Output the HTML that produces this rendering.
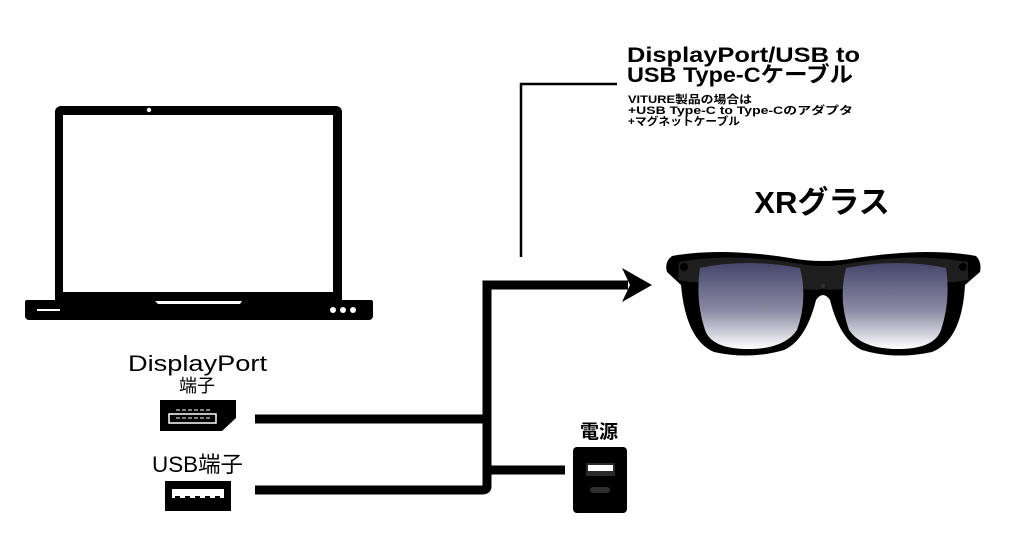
<!DOCTYPE html>
<html><head><meta charset="utf-8"><style>
html,body{margin:0;padding:0;background:#fff;}
svg{display:block}
text{font-family:"Liberation Sans","Noto Sans CJK JP",sans-serif;fill:#000}
</style></head><body>
<svg width="1024" height="538" viewBox="0 0 1024 538" xmlns="http://www.w3.org/2000/svg">
<defs>
<linearGradient id="lens" x1="0" y1="0" x2="0" y2="1">
<stop offset="0" stop-color="#45466a"/><stop offset="0.55" stop-color="#8a8aa4"/><stop offset="1" stop-color="#ffffff"/>
</linearGradient>
</defs>
<!-- laptop -->
<rect x="55" y="106" width="287" height="200" rx="6" fill="#000"/>
<rect x="63" y="115" width="270" height="177" fill="#fff"/>
<circle cx="149" cy="110" r="2.2" fill="#fff"/>
<path d="M26 300 H371 a2 2 0 0 1 2 2 V316 a4 4 0 0 1 -4 4 H29 a4 4 0 0 1 -4 -4 V302 a2 2 0 0 1 2 -2Z" fill="#000"/>
<path d="M155 301 H242 L240 304 H158Z" fill="#fff"/>
<rect x="37" y="309" width="23" height="2" fill="#fff"/>
<circle cx="333" cy="310" r="3" fill="#fff"/><circle cx="343" cy="310" r="3" fill="#fff"/><circle cx="353" cy="310" r="3" fill="#fff"/>
<!-- labels left -->
<text x="128" y="371" font-size="22" textLength="139" lengthAdjust="spacingAndGlyphs">DisplayPort</text>
<text x="197" y="392" font-size="18" text-anchor="middle">端子</text>
<text x="152" y="472" font-size="22" textLength="91" lengthAdjust="spacingAndGlyphs">USB端子</text>
<!-- DP connector -->
<path d="M160 400 H236 V418 L222 431 H160Z" fill="#000"/>
<rect x="169" y="414" width="47" height="9" fill="none" stroke="#fff" stroke-width="1.5"/>
<line x1="176" y1="410" x2="211" y2="410" stroke="#fff" stroke-width="1" stroke-dasharray="4,2"/>
<line x1="176" y1="418" x2="211" y2="418" stroke="#fff" stroke-width="1" stroke-dasharray="4,2"/>
<!-- USB connector -->
<rect x="165" y="481" width="66" height="30" fill="#000"/>
<rect x="172" y="489" width="52" height="9" fill="#fff"/>
<line x1="175" y1="497" x2="222" y2="497" stroke="#000" stroke-width="2" stroke-dasharray="5,5"/>
<!-- cables -->
<g fill="none" stroke="#000" stroke-width="9">
<path d="M255 419 H487"/>
<path d="M255 490 H483 q4 0 4 -4 V285 H628"/>
<path d="M487 470 H565"/>
</g>
<path d="M622 268 L652 285 L622 302 L630 285Z" fill="#000"/>
<!-- thin bracket -->
<path d="M521 257 V84 H617" fill="none" stroke="#000" stroke-width="2.5"/>
<text x="627" y="62" font-size="21.5" font-weight="bold" textLength="233" lengthAdjust="spacingAndGlyphs">DisplayPort/USB to</text>
<text x="627" y="82" font-size="21.5" font-weight="bold" textLength="226" lengthAdjust="spacingAndGlyphs">USB Type-Cケーブル</text>
<text x="628" y="103" font-size="11" font-weight="bold" textLength="124" lengthAdjust="spacingAndGlyphs">VITURE製品の場合は</text>
<text x="628" y="114" font-size="11" font-weight="bold" textLength="225" lengthAdjust="spacingAndGlyphs">+USB Type-C to Type-Cのアダプタ</text>
<text x="628" y="125" font-size="11" font-weight="bold" textLength="112" lengthAdjust="spacingAndGlyphs">+マグネットケーブル</text>
<!-- XR -->
<text x="822" y="213" font-size="31" font-weight="bold" text-anchor="middle">XRグラス</text>
<!-- glasses -->
<path d="M672 256 Q720 247 790 258 Q823 264 856 258 Q930 247 976 256 Q982 262 980 272 L965 285 Q962 340 932 352 Q895 360 862 350 Q840 340 830 300 Q823 290 816 300 Q806 340 784 350 Q750 360 714 352 Q686 340 681 285 L667 272 Q664 262 672 256Z" fill="#000"/>
<path d="M679 262 Q730 252 800 264 Q823 268 846 264 Q915 252 968 262 L968 280 L955 282 L830 290 Q823 288 816 290 L691 282 L678 280Z" fill="#1e1e1e"/>
<path d="M700 268 Q745 258 800 268 Q808 300 797 330 Q785 348 752 349 Q712 350 705 330 Q695 300 700 268Z" fill="url(#lens)"/>
<path d="M846 268 Q900 258 946 268 Q951 300 941 330 Q934 350 894 349 Q861 348 849 330 Q838 300 846 268Z" fill="url(#lens)"/>
<circle cx="684" cy="267" r="4" fill="#000"/><circle cx="963" cy="267" r="4" fill="#000"/>
<circle cx="823" cy="286" r="2" fill="#333"/>
<!-- power -->
<text x="599" y="438" font-size="19" font-weight="bold" text-anchor="middle">電源</text>
<rect x="573" y="447" width="54" height="66" rx="4" fill="#000"/>
<rect x="586" y="463" width="29" height="13" fill="#2a2a2a"/>
<rect x="588" y="465" width="25" height="6" fill="#fff"/>
<rect x="590" y="487" width="20" height="6" rx="3" fill="#2e2e2e"/>
</svg>
</body></html>
